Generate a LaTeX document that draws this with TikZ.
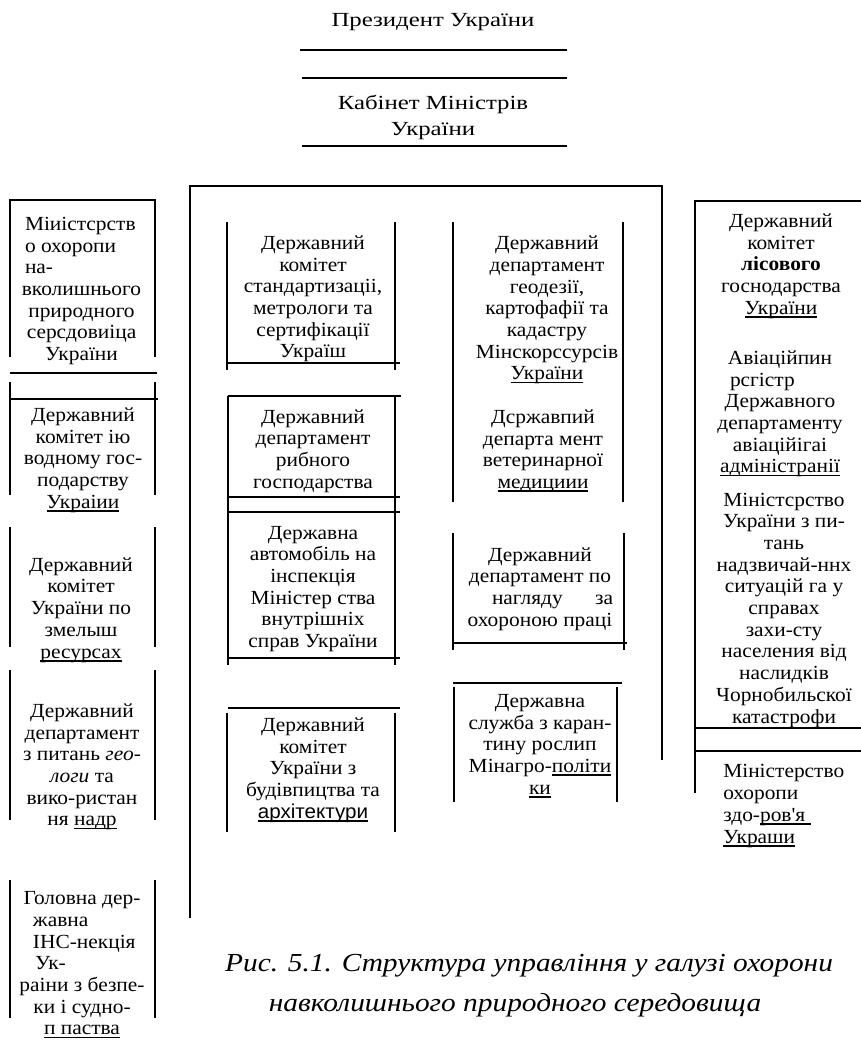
\documentclass[tikz,border=0pt]{standalone}
\usepackage{fontspec}
\setmainfont{Liberation Serif}[FakeStretch=1.07]
\newfontfamily\topfont{Liberation Serif}[FakeStretch=1.24]
\newfontfamily\capfont{Liberation Serif}[FakeStretch=1.13]
\newfontfamily\nolig{Liberation Serif}[FakeStretch=1.07,Ligatures=TeXOff]
\newfontfamily\arialf{Liberation Sans}[FakeStretch=1.03]
\newcommand\ulx[1]{\leavevmode\setbox0\hbox{#1}\rlap{\rule[-3.5pt]{\wd0}{1.6pt}}\box0}
\newcommand\Lft[3]{\makebox[#1][l]{\hspace*{#2}#3}}
\begin{document}
\begin{tikzpicture}[x=1pt,y=-1pt,line width=2.6pt,
  txt/.style={font=\fontsize{20}{21.7}\selectfont, align=center, inner sep=0pt},
  ttl/.style={font=\fontsize{20}{26}\selectfont\topfont, align=center, inner sep=0pt},
  capt/.style={font=\fontsize{26}{30}\selectfont\capfont\itshape, inner sep=0pt}]
\useasboundingbox[fill=white] (0,0) rectangle (861,1043);
% top
\node[ttl] (pres) at (433,22) {Президент України};
\draw (300,50) -- (567,50);
\draw (302,78) -- (567,78);
\node[ttl] (kab) at (433,117) {Кабінет Міністрів\\України};
\draw (302,146) -- (567,146);
% big frame
\draw (190,918) -- (190,186) -- (662,186) -- (662,760);
% left column
\draw (10,357) -- (10,200) -- (155,200) -- (155,357);
\draw (10,373) -- (157,373);
\node[txt] (l1) at (81.5,291) {\Lft{123pt}{5pt}{Міиістсрств}\\\Lft{123pt}{5pt}{о охоропи}\\\Lft{123pt}{5pt}{на-}\\вколишнього\\природного\\серсдовиіца\\України};
\draw (10,382) -- (10,495);
\draw (155,382) -- (155,495);
\draw (10,399) -- (158,399);
\node[txt] (l2) at (83,460) {Державний\\комітет ію\\водному гос-\\подарству\\\ulx{Украіии}};
\draw (10,527) -- (10,647);
\draw (155,527) -- (155,647);
\node[txt] (l3) at (81,610) {Державний\\комітет\\України по\\змелыш\\\ulx{ресурсах}};
\draw (10,670) -- (10,820);
\draw (155,670) -- (155,820);
\node[txt] (l4) at (82,767) {Державний\\департамент\\з питань \textit{гео-}\\\textit{логи} та\\вико-ристан\\ня \ulx{надр}};
\draw (10,880) -- (10,1018);
\draw (155,880) -- (155,1018);
\node[txt] (l5) at (82,965) {Головна дер-\\\Lft{127pt}{14.5pt}{жавна}\\\Lft{127pt}{14.5pt}{ІНС-некція}\\\Lft{127pt}{16.5pt}{Ук-}\\раіни з безпе-\\ки і судно-\\\ulx{п паства}};
% middle column
\draw (227,222) -- (227,370);
\draw (395,222) -- (395,370);
\draw (227,363) -- (400,363);
\node[txt] (m1) at (313,299) {Державний\\комітет\\стандартизаціі,\\метрологи та\\сертифікації\\Украïш};
\draw (228,396) -- (401,396);
\draw (228,396) -- (228,665);
\draw (395,396) -- (395,665);
\draw (228,497) -- (400,497);
\draw (228,512) -- (400,512);
\draw (228,658) -- (400,658);
\node[txt] (m2) at (313,451) {Державний\\департамент\\рибного\\господарства};
\node[txt] (m3) at (313,589) {Державна\\автомобіль на\\інспекція\\Міністер ства\\внутрішніх\\справ України};
\draw (228,708) -- (400,708);
\draw (227,713) -- (227,832);
\draw (395,713) -- (395,832);
\node[txt] (m4) at (313,770) {Державний\\комітет\\України з\\будівпицтва та\\\ulx{\arialf архітектури}};
% middle-right column
\draw (453,222) -- (453,502);
\draw (623,222) -- (623,502);
\node[txt] (r1) at (547,310) {Державний\\департамент\\геодезії,\\картофафії та\\кадастру\\Мінскорссурсів\\\ulx{України}};
\node[txt] (r2) at (543,451) {Дсржавпий\\департа мент\\ветеринарної\\\ulx{медициии}};
\draw (453,533) -- (453,650);
\draw (624,533) -- (624,650);
\draw (453,643) -- (627,643);
\node[txt] (r3) at (540,589) {Державний\\департамент по\\\makebox[146pt][l]{\hspace*{25pt}нагляду\hfill за}\\охороною праці};
\draw (453,683) -- (622,683);
\draw (454,687) -- (454,802);
\draw (617,687) -- (617,802);
\node[txt] (r4) at (540,746) {Державна\\служба з каран-\\тину рослип\\Мінагро-\ulx{політи}\\\ulx{ки}};
% far right column
\draw (861,201) -- (695,201) -- (695,793);
\draw (695,728) -- (861,728);
\draw (695,751) -- (861,751);
\node[txt] (f1) at (781,266) {Державний\\комітет\\\textbf{лісового}\\госнодарства\\\ulx{України}};
\node[txt] (f2) at (780,414) {Авіаційпин\\\Lft{124pt}{12pt}{рсгістр}\\Державного\\департаменту\\авіаційігаі\\\ulx{адміністранії}};
\node[txt] (f3) at (784,610) {Міністсрство\\України з пи-\\тань\\надзвичай-ннх\\ситуацій га у\\справах\\захи-сту\\населения від\\наслидків\\Чорнобильскої\\катастрофи};
\node[txt,align=left,anchor=west] (f4) at (722,806) {Міністерство\\охоропи\\здо-\ulx{ров{\nolig '}я }\\\ulx{Украши}};
% caption
\node[capt] (cap1) at (529,966) {Рис. 5.1. Структура управління у галузі охорони};
\node[capt] (cap2) at (515,1005) {навколишнього природного середовища};
\end{tikzpicture}
\end{document}
